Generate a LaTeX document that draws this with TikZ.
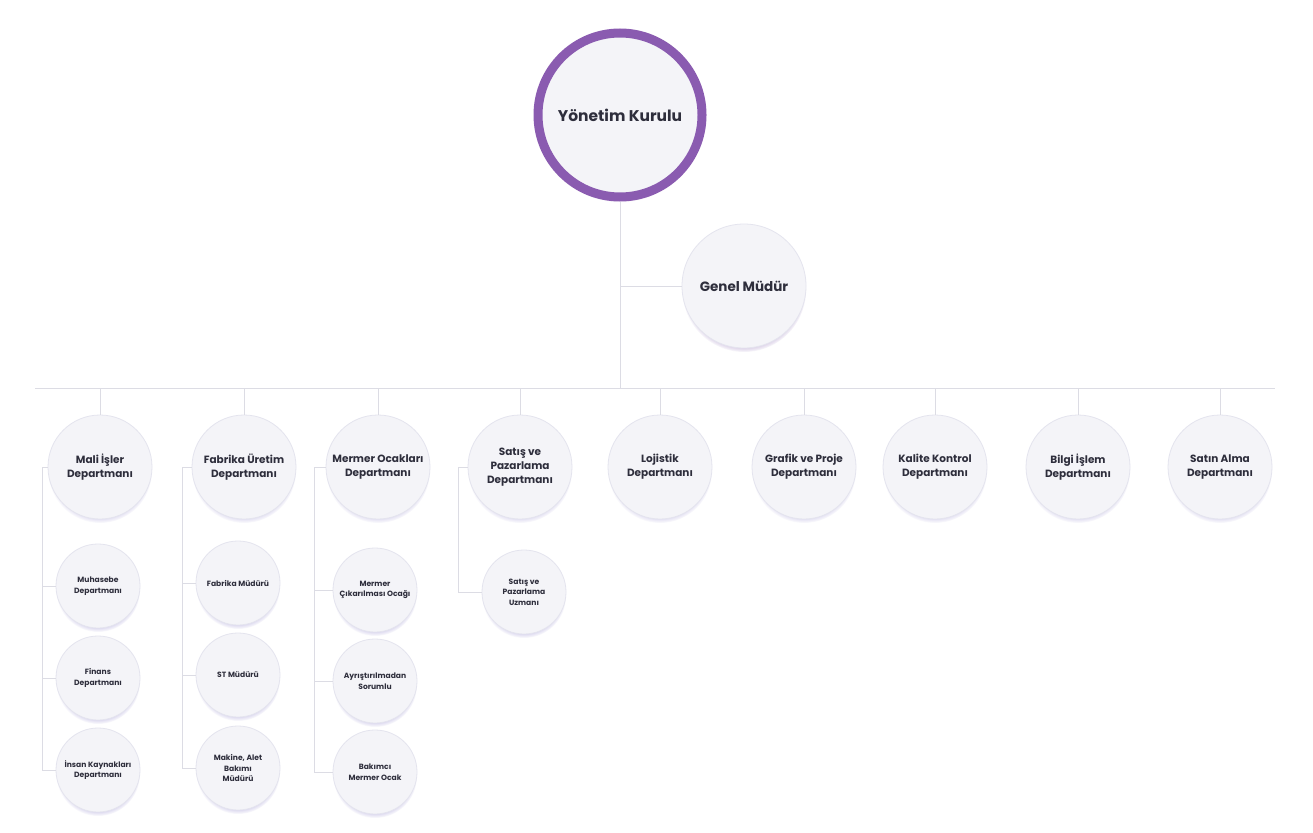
\documentclass[tikz,border=0pt]{standalone}
\usepackage{fontspec}
\setmainfont{Poppins}
\usetikzlibrary{shadows}
\definecolor{txt}{HTML}{2E2E3C}
\definecolor{edge}{HTML}{DCDCE4}
\definecolor{ringc}{HTML}{8A5BB0}
\definecolor{cfill}{HTML}{F4F4F8}
\definecolor{cdraw}{HTML}{E4E4EE}
\definecolor{shad}{HTML}{BEB8E2}
\tikzset{
  conn/.style={draw=edge, line width=1pt},
  bubble/.style={circle, fill=cfill, draw=cdraw, line width=0.8pt, text=txt, align=center, inner sep=0pt,
    circular drop shadow={shadow xshift=0pt, shadow yshift=-4pt, fill=shad, opacity=0.75, shadow scale=1.0}},
  topnode/.style={bubble, draw=ringc, line width=9pt, minimum size=164pt, font=\bfseries\fontsize{15.5}{18}\selectfont,
    circular drop shadow={shadow xshift=0pt, shadow yshift=-2pt, fill=ringc!45, opacity=0.45, shadow scale=1.04}},
  gmnode/.style={bubble, minimum size=124pt, font=\bfseries\fontsize{13.5}{16}\selectfont,
    circular drop shadow={shadow xshift=0pt, shadow yshift=-4pt, fill=shad!70!pink, opacity=0.75, shadow scale=1.0}},
  deptnode/.style={bubble, minimum size=104pt, font=\bfseries\fontsize{10.5}{14}\selectfont},
  subnode/.style={bubble, minimum size=84pt, font=\bfseries\fontsize{7.6}{10.5}\selectfont},
}
\begin{document}
\begin{tikzpicture}[x=1pt,y=-1pt]
\path[fill=white] (0,0) rectangle (1313,832);
\useasboundingbox (0,0) rectangle (1313,832);

\coordinate (busL) at (35,388);
\coordinate (busR) at (1275,388);

\node[topnode] (yk) at (620,115) {Yönetim Kurulu};
\node[gmnode] (gm) at (744,286) {Genel Müdür};

\node[deptnode] (mali) at (100,467) {Mali İşler\\Departmanı};
\node[deptnode] (fab) at (244,467) {Fabrika Üretim\\Departmanı};
\node[deptnode] (mer) at (378,467) {Mermer Ocakları\\Departmanı};
\node[deptnode] (sat) at (520,467) {Satış ve\\Pazarlama\\Departmanı};
\node[deptnode] (loj) at (660,467) {Lojistik\\Departmanı};
\node[deptnode] (gra) at (804,467) {Grafik ve Proje\\Departmanı};
\node[deptnode] (kal) at (935,467) {Kalite Kontrol\\Departmanı};
\node[deptnode] (bil) at (1078,467) {Bilgi İşlem\\Departmanı};
\node[deptnode] (sa) at (1220,467) {Satın Alma\\Departmanı};

\node[subnode] (m1) at (98,586) {Muhasebe\\Departmanı};
\node[subnode] (m2) at (98,678) {Finans\\Departmanı};
\node[subnode] (m3) at (98,770) {İnsan Kaynakları\\Departmanı};

\node[subnode] (f1) at (238,583) {Fabrika Müdürü};
\node[subnode] (f2) at (238,675) {ST Müdürü};
\node[subnode] (f3) at (238,768) {Makine, Alet\\Bakımı\\Müdürü};

\node[subnode] (o1) at (375,590) {Mermer\\Çıkarılması Ocağı};
\node[subnode] (o2) at (375,681) {Ayrıştırılmadan\\Sorumlu};
\node[subnode] (o3) at (375,772) {Bakımcı\\Mermer Ocak};

\node[subnode] (s1) at (524,592) {Satış ve\\Pazarlama\\Uzmanı};

\draw[conn] (yk.south) -- (yk.south |- busL);
\draw[conn] (yk.south |- gm.west) -- (gm.west);
\draw[conn] (busL) -- (busR);
\foreach \d in {mali,fab,mer,sat,loj,gra,kal,bil,sa}{
  \draw[conn] (\d.north) -- (\d.north |- busL);
}
\coordinate (cm) at (42,0);
\coordinate (cf) at (182,0);
\coordinate (co) at (314,0);
\coordinate (cs) at (458,0);
\draw[conn] (mali.west) -- (mali.west -| cm) -- (cm |- m3.west) -- (m3.west);
\draw[conn] (cm |- m1.west) -- (m1.west);
\draw[conn] (cm |- m2.west) -- (m2.west);
\draw[conn] (fab.west) -- (fab.west -| cf) -- (cf |- f3.west) -- (f3.west);
\draw[conn] (cf |- f1.west) -- (f1.west);
\draw[conn] (cf |- f2.west) -- (f2.west);
\draw[conn] (mer.west) -- (mer.west -| co) -- (co |- o3.west) -- (o3.west);
\draw[conn] (co |- o1.west) -- (o1.west);
\draw[conn] (co |- o2.west) -- (o2.west);
\draw[conn] (sat.west) -- (sat.west -| cs) -- (cs |- s1.west) -- (s1.west);
\end{tikzpicture}
\end{document}
